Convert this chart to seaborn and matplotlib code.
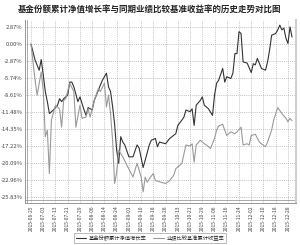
import matplotlib
matplotlib.use("Agg")
import matplotlib.pyplot as plt
import seaborn as sns
import pandas as pd
from matplotlib.lines import Line2D

title = "基金份额累计净值增长率与同期业绩比较基准收益率的历史走势对比图"
fund_label = "基金份额累计净值增长率"
bench_label = "业绩比较基准累计收益率"

tick_labels = ["2015-06-25", "2015-07-03", "2015-07-13", "2015-07-21", "2015-07-29",
               "2015-08-06", "2015-08-14", "2015-08-24", "2015-09-01", "2015-09-10",
               "2015-09-18", "2015-09-28", "2015-10-13", "2015-10-21", "2015-10-29",
               "2015-11-06", "2015-11-16", "2015-11-24", "2015-12-02", "2015-12-10",
               "2015-12-18", "2015-12-28"]
tick_pos = [0, 6, 12, 18, 24, 30, 36, 42, 48, 54, 60, 66, 72, 78, 84,
            90, 96, 102, 108, 114, 120, 126]

y_ticks = [2.87, 0.00, -2.87, -5.74, -8.61, -11.48, -14.35, -17.22, -20.09, -22.96, -25.83]

fund_day = [0, 2, 4, 5, 6, 7, 8, 9, 11, 13, 14, 15, 16, 18, 19, 20, 21, 23, 24, 26,
            27, 28, 30, 31, 33, 34, 35, 37, 38, 39, 40, 41, 42, 43, 44, 45, 46, 48, 50, 52,
            53, 55, 57, 58, 59, 61, 62, 63, 66, 68, 71, 72, 74, 75, 76, 78, 79, 80, 81, 83,
            84, 85, 87, 89, 90, 91, 92, 94, 95, 96, 98, 99, 100, 101, 102, 103, 104, 106, 108, 109,
            110, 111, 113, 115, 116, 117, 118, 120, 121, 122, 123, 124, 125, 126, 127, 128]
fund_val = [0.0, -2.7, -4.4, -2.6, -5.2, -8.0, -9.7, -11.7, -11.1, -10.3, -9.2, -9.7, -9.2, -8.6, -6.4, -6.4, -7.2, -9.7, -8.9, -11.1,
            -12.0, -10.7, -11.1, -9.5, -7.8, -6.9, -6.1, -4.9, -7.2, -8.0, -10.5, -13.5, -17.9, -20.1, -15.6, -16.5, -17.0, -19.0, -19.0, -17.0,
            -17.5, -20.8, -18.3, -17.0, -16.2, -15.9, -17.3, -16.5, -16.8, -15.9, -15.1, -13.7, -12.8, -12.3, -11.1, -11.4, -10.9, -13.7, -10.3, -9.5,
            -8.9, -10.3, -10.9, -12.0, -8.6, -6.6, -6.1, -4.1, -6.4, -5.5, -5.8, -4.9, -1.6, -1.6, 2.1, 1.8, -3.0, -3.2, -4.8, -3.3,
            -3.5, -2.4, -4.1, -4.4, -3.0, -1.0, 1.5, 1.8, 2.4, 3.2, 2.4, 2.7, 1.0, 0.1, 2.9, 1.2]

bench_day = [0, 2, 3, 5, 6, 7, 8, 9, 10, 12, 14, 15, 16, 17, 19, 21, 22, 24, 25, 27,
             28, 29, 31, 33, 34, 36, 37, 38, 39, 40, 41, 42, 43, 45, 47, 50, 52, 54, 55, 56,
             57, 58, 60, 61, 63, 66, 68, 70, 71, 74, 75, 76, 78, 79, 80, 81, 83, 85, 86, 88,
             90, 91, 92, 94, 95, 96, 98, 100, 101, 103, 104, 106, 107, 108, 110, 112, 113, 115, 116, 118,
             119, 121, 123, 125, 126, 127, 128]
bench_val = [0.0, -6.1, -8.6, -4.7, -7.8, -15.6, -14.5, -21.8, -12.8, -10.3, -10.9, -14.0, -9.5, -9.2, -6.6, -8.0, -14.0, -10.3, -12.5, -12.3,
             -10.9, -12.3, -9.5, -7.5, -8.0, -6.6, -10.6, -8.6, -11.7, -16.2, -23.5, -21.6, -17.9, -19.0, -20.4, -22.4, -20.1, -22.4, -24.9, -22.4,
             -23.3, -22.7, -21.8, -23.0, -23.2, -23.5, -23.0, -22.1, -21.0, -20.1, -18.5, -17.0, -17.2, -16.8, -19.9, -17.0, -16.2, -16.8, -17.0, -17.6,
             -15.9, -14.5, -13.8, -13.5, -14.5, -15.4, -14.8, -15.1, -14.8, -14.0, -17.0, -16.8, -17.0, -15.4, -15.2, -16.5, -16.8, -17.3, -16.5, -14.5,
             -12.8, -10.7, -11.7, -12.5, -13.1, -12.5, -12.9]

df = pd.concat([
    pd.DataFrame({"day": fund_day, "value": fund_val, "series": fund_label}),
    pd.DataFrame({"day": bench_day, "value": bench_val, "series": bench_label}),
])

sns.set_theme(style="white")
plt.rcParams['font.family'] = ['Noto Sans CJK SC', 'DejaVu Sans']
plt.rcParams['axes.unicode_minus'] = False

fig = plt.figure(figsize=(3.0, 2.45), dpi=100)
ax = fig.add_axes([0.083, 0.171, 0.904, 0.747])

colors = {fund_label: "#333333", bench_label: "#9a9a9a"}
sns.lineplot(data=df, x="day", y="value", hue="series", palette=colors,
             linewidth=0.8, ax=ax, legend=False, sort=False)

ax.set_xlim(-3, 130)
ax.set_ylim(-26.8, 4.05)
ax.set_xticks(tick_pos)
ax.set_xticklabels(tick_labels, rotation=90, fontsize=3.6, color="#444444")
ax.set_yticks(y_ticks)
ax.set_yticklabels([f"{v:.2f}%" for v in y_ticks], fontsize=4.2, color="#444444")
ax.tick_params(axis="both", length=0, pad=1.5)
ax.set_xlabel("")
ax.set_ylabel("")
ax.grid(True, linestyle=(0, (1.5, 1.5)), color="#b0b0b0", linewidth=0.5)

for s in ["top"]:
    ax.spines[s].set_visible(False)
ax.spines["right"].set_color("#d0d0d0")
ax.spines["right"].set_linewidth(1.5)
ax.spines["left"].set_color("#888888")
ax.spines["bottom"].set_color("#888888")
ax.spines["left"].set_linewidth(0.6)
ax.spines["bottom"].set_linewidth(0.6)
# double frame lines on left and bottom
ax.axvline(-2.2, color="#888888", linewidth=0.5)
ax.axhline(-26.3, color="#888888", linewidth=0.5)

fig.text(0.5, 0.962, title, ha="center", va="center", fontsize=6.1,
         fontweight="bold", color="#222222")

handles = [Line2D([0], [0], color=colors[fund_label], lw=0.8),
           Line2D([0], [0], color=colors[bench_label], lw=0.8)]
leg = fig.legend(handles, [fund_label, bench_label], loc="center",
                 bbox_to_anchor=(0.5, 0.028), ncol=2, fontsize=3.8, frameon=True,
                 fancybox=False, edgecolor="#888888", handlelength=2.0,
                 handletextpad=0.5, columnspacing=1.2, borderpad=0.4)
leg.get_frame().set_linewidth(0.5)

fig.savefig("out.png", dpi=100)
